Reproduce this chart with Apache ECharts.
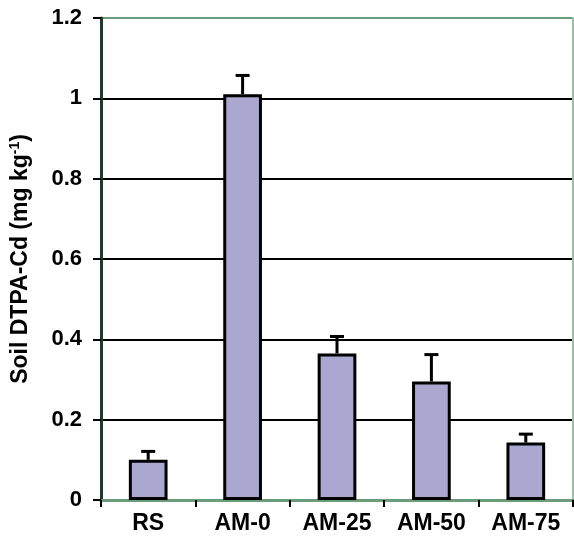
<!DOCTYPE html>
<html><head><meta charset="utf-8">
<script src="https://cdn.jsdelivr.net/npm/echarts@6/dist/echarts.min.js"></script>
<style>html,body{margin:0;padding:0;background:#fff}#c{width:574px;height:547px}</style>
</head><body><div id="c"></div>
<script>
const categories = ['RS', 'AM-0', 'AM-25', 'AM-50', 'AM-75'];
const means = [0.10, 1.01, 0.365, 0.295, 0.143];
const errors = [0.021, 0.047, 0.042, 0.067, 0.021];
const yTicks = [0, 0.2, 0.4, 0.6, 0.8, 1, 1.2];

const FONT = '"Liberation Sans", Arial, sans-serif';
const chart = echarts.init(document.getElementById('c'), null, {renderer: 'canvas'});
chart.setOption({
  animation: false,
  backgroundColor: '#fff',
  grid: {left: 101, right: 1, top: 18, bottom: 47, containLabel: false},
  xAxis: [{
    type: 'category', data: categories, position: 'bottom',
    axisLine: {lineStyle: {color: '#000', width: 2}},
    axisTick: {show: true, alignWithLabel: false, length: 7, lineStyle: {color: '#000', width: 2}},
    axisLabel: {color: '#000', fontFamily: FONT, fontWeight: 'bold', fontSize: 23, margin: 12},
    splitLine: {show: false}
  }, {
    type: 'category', data: categories, position: 'top',
    axisLine: {lineStyle: {color: '#6d9c7c', width: 3}},
    axisTick: {show: false}, axisLabel: {show: false}
  }],
  yAxis: [{
    type: 'value', min: 0, max: 1.2, interval: 0.2,
    axisLine: {show: true, lineStyle: {color: '#1f3a29', width: 3}},
    axisTick: {show: true, length: 8, lineStyle: {color: '#000', width: 2}},
    axisLabel: {color: '#000', fontFamily: FONT, fontWeight: 'bold', fontSize: 22, margin: 19,
      formatter: v => String(yTicks.find(t => Math.abs(t - v) < 1e-9) ?? v)},
    splitLine: {show: true, lineStyle: {color: ['#000', '#000', '#000', '#000', '#000', '#000', '#6d9c7c'], width: 2}},
    name: '{a|Soil DTPA-Cd (mg kg}{s|-1}{a|)}',
    nameLocation: 'middle', nameGap: 67, nameRotate: 90,
    nameTextStyle: {
      rich: {
        a: {fontFamily: FONT, fontWeight: 'bold', fontSize: 23, color: '#000'},
        s: {fontFamily: FONT, fontWeight: 'bold', fontSize: 14, color: '#000', verticalAlign: 'top', padding: [0, 0, 12, 0]}
      }
    }
  }, {
    type: 'value', min: 0, max: 1.2, interval: 0.2, position: 'right',
    axisLine: {show: true, lineStyle: {color: '#9dbda6', width: 2}},
    axisTick: {show: false}, axisLabel: {show: false}, splitLine: {show: false}
  }],
  series: [{
    type: 'bar', data: means, barWidth: '41%',
    itemStyle: {color: '#aaa7d1', borderColor: '#000', borderWidth: 3},
    z: 3
  }, {
    type: 'custom',
    data: means.map((m, i) => [i, m, m + errors[i]]),
    renderItem: (params, api) => {
      const lo = api.coord([api.value(0), api.value(1)]);
      const hi = api.coord([api.value(0), api.value(2)]);
      const cap = 7;
      return {
        type: 'group',
        children: [
          {type: 'line', shape: {x1: lo[0], y1: lo[1], x2: hi[0], y2: hi[1]}, style: {stroke: '#000', lineWidth: 3}},
          {type: 'line', shape: {x1: hi[0] - cap, y1: hi[1], x2: hi[0] + cap, y2: hi[1]}, style: {stroke: '#000', lineWidth: 3}}
        ]
      };
    },
    z: 4
  }]
});
</script></body></html>
